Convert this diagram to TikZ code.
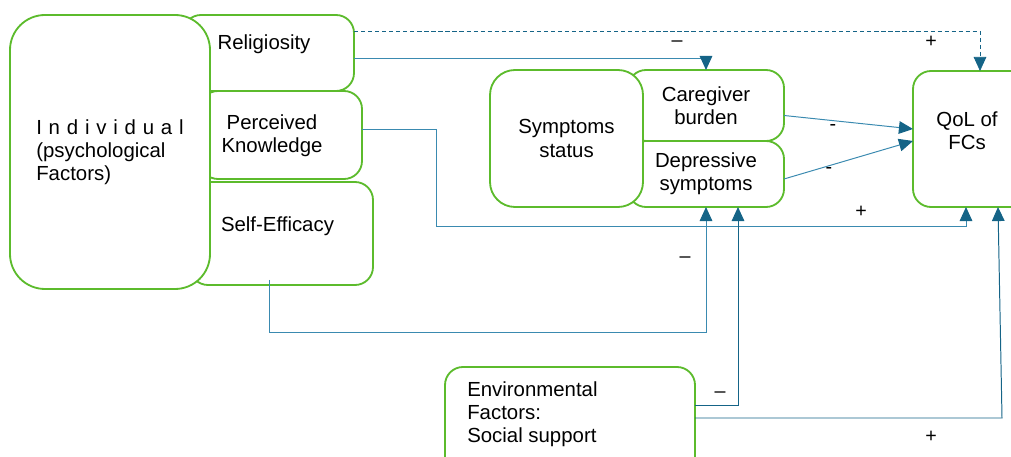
\documentclass[tikz,border=0pt]{standalone}
\usepackage{fontspec}
\setmainfont{Liberation Sans}
\usepackage{xcolor}
\usepackage{tikz}
\usetikzlibrary{arrows.meta, positioning, calc}
\definecolor{boxgreen}{HTML}{5CBB2C}
\definecolor{linkblue}{HTML}{3A8AB0}
\definecolor{tipblue}{HTML}{156487}
\newcommand{\pxu}{0.025cm}

\tikzset{
  box/.style={draw=boxgreen, line width=1.3pt, fill=white, rounded corners=#1,
              inner sep=0pt, outer sep=0pt, align=center,
              font=\fontsize{14.5}{16.4}\selectfont},
  box/.default=18*\pxu,
  txt/.style={inner sep=0pt, font=\fontsize{14.5}{16.4}\selectfont},
  sign/.style={inner sep=0pt, font=\fontsize{14}{16}\selectfont},
  link/.style={draw=linkblue, line width=0.7pt,
               -{Triangle[length=10pt,width=9pt,color=tipblue]}},
}

\begin{document}
\begin{tikzpicture}[x=0.025cm, y=-0.025cm]
    \useasboundingbox (0,0) rectangle (1011,457);

    % psychological factors, drawn behind the big box
    \node[box] (relig) at (268.5,53) [minimum width=171*\pxu, minimum height=76*\pxu] {};
    \node[box] (perc) at (281,135) [minimum width=162*\pxu, minimum height=88*\pxu] {};
    \node[box] (selfe) at (281.5,233.5) [minimum width=183*\pxu, minimum height=103*\pxu] {};
    \node[box=35*\pxu] (indiv) at (110,152) [minimum width=200*\pxu, minimum height=274*\pxu] {};

    \node[txt, anchor=west, align=left] (indivtxt) at (36,152)
        {I\,\,n\,\,d\,\,i\,\,v\,\,i\,\,d\,\,u\,\,a\,\,l\\(psychological\\Factors)};
    \node[txt] (religtxt) at (264,44) {Religiosity};
    \node[txt, align=center] (perctxt) at (272,135.5) {Perceived\\Knowledge};
    \node[txt] (selfetxt) at (277.5,226) {Self-Efficacy};

    % symptoms
    \node[box] (careg) at (706,105.5) [minimum width=156*\pxu, minimum height=71*\pxu] {Caregiver\\burden};
    \node[box] (dep) at (706,174) [minimum width=156*\pxu, minimum height=66*\pxu] {Depressive\\symptoms};
    \node[box=25*\pxu] (symp) at (566.5,138.5) [minimum width=153*\pxu, minimum height=137*\pxu] {Symptoms\\status};

    % outcome and environment
    \node[box] (qol) at (971.5,139) [minimum width=117*\pxu, minimum height=136*\pxu] {};
    \node[txt, align=center] (qoltxt) at (967,131) {QoL of\\FCs};
    \node[box] (env) at (570,421) [minimum width=250*\pxu, minimum height=108*\pxu] {};
    \node[txt, anchor=west, align=left] (envtxt) at (467,414)
        {Environmental\\Factors:\\Social support};

    % paths
    \draw[link, line width=0.5pt, densely dashed, draw=tipblue]
        ($(relig.north east)+(0,16)$) -| ($(qol.north west)+(67,0)$);
    \draw[link] ($(relig.north east)+(0,43)$) -| (careg.north);
    \draw[link] ($(perc.east)+(0,-6)$) -- ++(74,0) -- ++(0,97) -| ($(qol.south west)+(53,0)$);
    \draw[link] ($(selfe.south west)+(79,-5)$) -- ++(0,52) -| (dep.south);
    \draw[link, draw=tipblue] ($(env.north east)+(0,38)$) -| ($(dep.south)+(32,0)$);
    \draw[link, draw=tipblue] ($(env.north east)+(0,51)$) -- ++(307,0) -- ($(qol.south west)+(85,0)$);
    \draw[link] ($(careg.east)+(0,10)$) -- ($(qol.west)+(0,-10)$);
    \draw[link] ($(dep.east)+(0,5)$) -- ($(qol.west)+(0,2)$);

    % signs
    \node[sign] (s1) at (931,42) {+};
    \node[sign] (s2) at (677,44) {--};
    \node[sign] (s3) at (833,128) {-};
    \node[sign] (s4) at (829,171) {-};
    \node[sign] (s5) at (861,212) {+};
    \node[sign] (s6) at (685,260) {--};
    \node[sign] (s7) at (720,395) {--};
    \node[sign] (s8) at (931,437) {+};
\end{tikzpicture}
\end{document}
